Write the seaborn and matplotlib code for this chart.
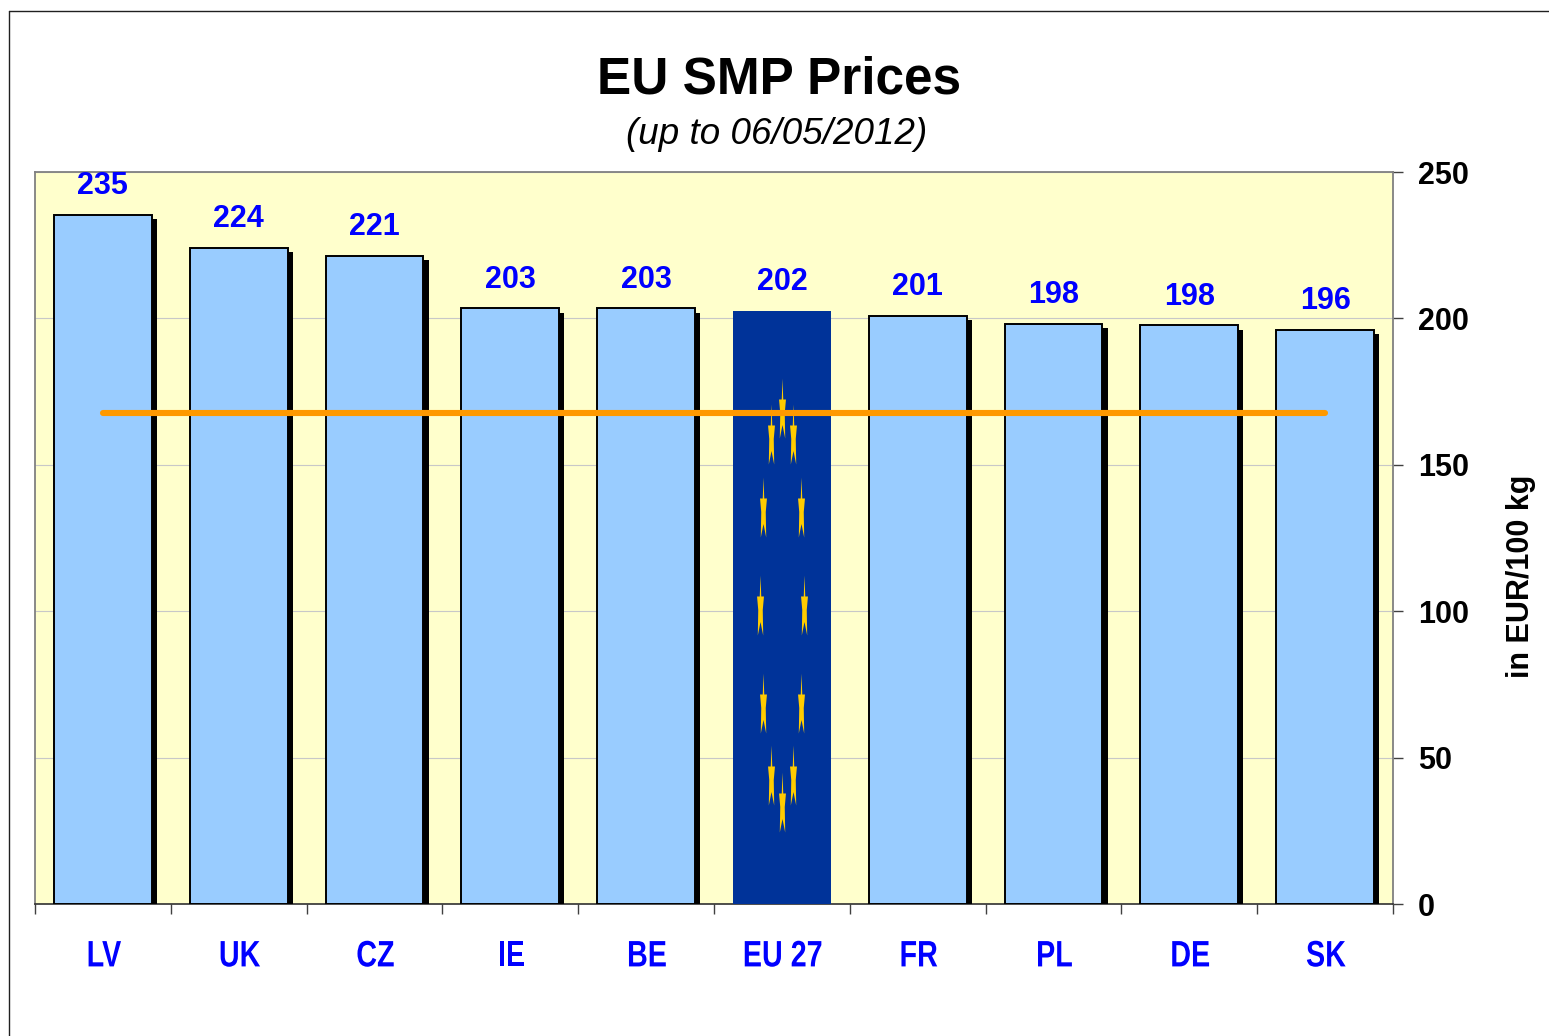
import matplotlib
matplotlib.use("Agg")
import matplotlib.pyplot as plt
import matplotlib.patheffects as pe
from matplotlib.lines import Line2D
from matplotlib.path import Path
from matplotlib.transforms import Affine2D
import numpy as np
import seaborn as sns

countries = ["LV", "UK", "CZ", "IE", "BE", "EU 27", "FR", "PL", "DE", "SK"]
prices = [235.3, 224.0, 221.4, 203.4, 203.4, 202.4, 200.8, 198.2, 197.6, 196.2]
price_labels = ["235", "224", "221", "203", "203", "202", "201", "198", "198", "196"]
world_price = [167.7] * len(countries)

# flag stars on the EU bar
star_offsets = [0, -0.081, 0.081, -0.14, 0.14, -0.162, 0.162, -0.14, 0.14, -0.081, 0.081, 0]
star_values = [169.4, 160.5, 160.5, 135.6, 135.6, 102, 102, 68.6, 68.6, 44, 44, 34.8]

W, H = 1549, 1036


class Squeeze(pe.AbstractPathEffect):
    # no condensed font installed, so narrow the tick labels at draw time
    def __init__(self, sx):
        super().__init__()
        self.sx = sx

    def draw_path(self, renderer, gc, tpath, affine, rgbFace=None):
        box = tpath.get_extents(affine)
        cx = (box.x0 + box.x1) / 2
        squeeze = Affine2D().translate(-cx + 1, 0).scale(self.sx, 1).translate(cx, 0)
        renderer.draw_path(gc, tpath, affine + squeeze, rgbFace)


sns.set_theme(style="white")
plt.rcParams['font.family'] = ['Liberation Sans', 'DejaVu Sans']

fig = plt.figure(figsize=(W / 100, H / 100), dpi=100, facecolor="white")
ax = fig.add_axes([35 / W, 1 - 904 / H, (1393 - 35) / W, (904 - 172) / H])
ax.set_facecolor("#FFFFCC")

colores = ["#003399" if c == "EU 27" else "#99CCFF" for c in countries]
sns.barplot(x=countries, y=prices, hue=countries, palette=colores, dodge=False,
            legend=False, width=0.72, edgecolor="black", linewidth=1.4, saturation=1,
            ax=ax, zorder=3)

for name, cont in zip(countries, ax.containers):
    for bar in cont:
        if name == "EU 27":
            bar.set_linewidth(0)
        else:
            bar.set_path_effects([
                pe.SimplePatchShadow(offset=(3.8, -3), shadow_rgbFace="black", alpha=1, rho=1),
                pe.Normal(),
            ])

for cont, lab in zip(ax.containers, price_labels):
    ax.bar_label(cont, labels=[lab], padding=10, color="#0000FF", fontsize=22,
                 fontweight="bold", zorder=6)

# flag stars
star_shape = Path([(0, 1), (0.025, 0.3), (0.115, 0.3), (0.075, -0.15), (0.09, -1), (0, -0.55),
                   (-0.09, -1), (-0.075, -0.15), (-0.115, 0.3), (-0.025, 0.3), (0, 1)], closed=True)
eu_pos = countries.index("EU 27")
ax.scatter(np.array(star_offsets) + eu_pos, star_values, marker=star_shape, s=1870,
           color="#FFCC00", linewidths=0, zorder=4)

sns.lineplot(x=countries, y=world_price, sort=False, errorbar=None, color="#FF9900",
             linewidth=4.4, ax=ax, zorder=5)

ax.set_xlim(-0.5, 9.5)
ax.set_ylim(0, 250)
ax.set_yticks([0, 50, 100, 150, 200, 250])
ax.yaxis.tick_right()
ax.grid(axis="y", color="#C8C8C8", linewidth=0.8)
ax.set_axisbelow(True)
ax.set_xlabel("")

ax.set_xticks(range(len(countries)))
ax.set_xticklabels(countries)
ax.set_xticks(np.arange(-0.5, 10), minor=True)
ax.tick_params(axis="x", which="major", length=0, pad=25.5, labelcolor="#0000FF", labelsize=26.5)
ax.tick_params(axis="x", which="minor", length=7.5, width=1, color="#404040", bottom=True)
ax.tick_params(axis="y", length=7.5, width=1, color="#404040", right=True, pad=10.5, labelsize=22)
for lab in ax.get_xticklabels():
    lab.set_fontweight("bold")
    lab.set_path_effects([Squeeze(0.78)])
for lab in ax.get_yticklabels():
    lab.set_fontweight("bold")
    lab.set_color("black")

ax.yaxis.set_label_position("right")
ax.set_ylabel("in EUR/100 kg", fontsize=22, fontweight="bold", color="black",
              rotation=90, va="center", ha="center")
ax.yaxis.set_label_coords((1521 - 35) / (1393 - 35), (904 - 576) / (904 - 172))

for side in ["top", "left", "right"]:
    ax.spines[side].set_visible(True)
    ax.spines[side].set_color("#808080")
    ax.spines[side].set_linewidth(1.3)
ax.spines["bottom"].set_visible(True)
ax.spines["bottom"].set_color("#303030")
ax.spines["bottom"].set_linewidth(1.2)

fig.text(779 / W, 1 - 80 / H, "EU SMP Prices", fontsize=37, fontweight="bold",
         color="black", ha="center", va="center")
fig.text(777 / W, 1 - 134 / H, "(up to 06/05/2012)", fontsize=26.5, fontstyle="italic",
         color="black", ha="center", va="center")

# outer chart frame
fig.add_artist(Line2D([9 / W, 9 / W], [0, 1 - 11 / H], color="#202020", linewidth=1))
fig.add_artist(Line2D([9 / W, 1], [1 - 11 / H, 1 - 11 / H], color="#202020", linewidth=1))

fig.savefig("out.png", dpi=100)
